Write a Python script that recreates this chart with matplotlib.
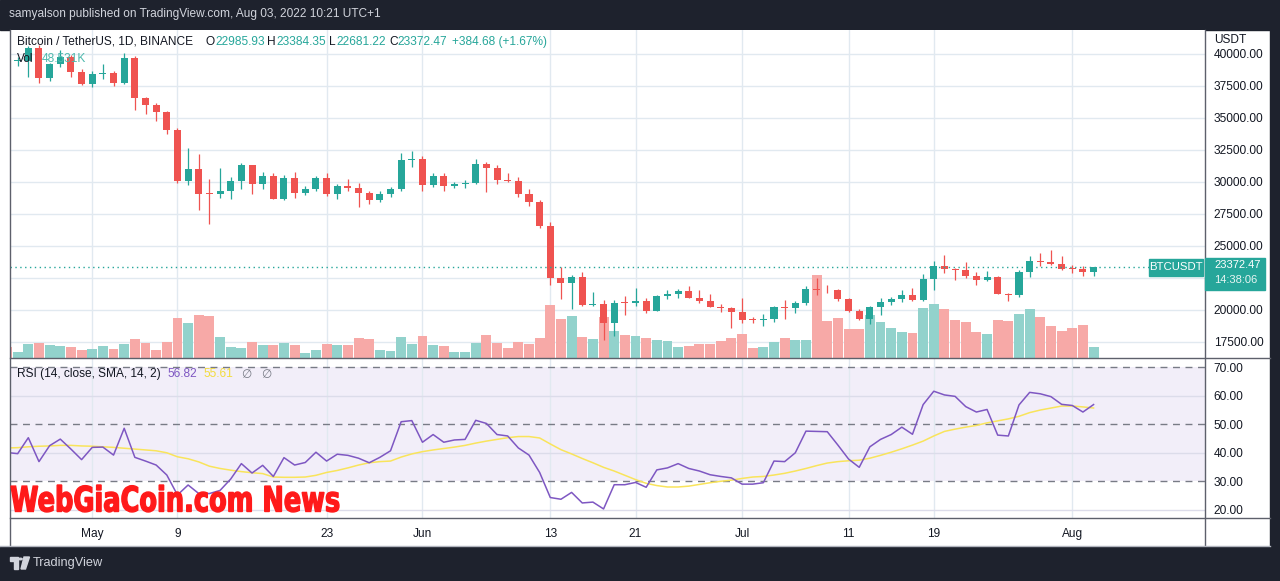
import matplotlib
matplotlib.use('Agg')
import matplotlib.pyplot as plt
import numpy as np
import pandas as pd
from matplotlib.patches import Rectangle, PathPatch, Circle, Polygon
from matplotlib.textpath import TextPath
from matplotlib.font_manager import FontProperties
from matplotlib.path import Path
from matplotlib.lines import Line2D
from matplotlib.transforms import blended_transform_factory

plt.rcParams['font.family'] = ['Liberation Sans', 'DejaVu Sans']

# ---- data (BTCUSDT daily, Binance) ----
dates = pd.date_range('2022-04-23', '2022-08-03', freq='D')

opens = [39710, 39450, 39470, 40430, 38110, 39230, 39740, 38590, 37630, 38470,
         38520, 37710, 39690, 36550, 36010, 35470, 34040, 30080, 31010, 29100,
         29050, 29300, 30080, 31330, 29850, 30450, 28680, 30310, 29150, 29450,
         30300, 29080, 29680, 29520, 29150, 28600, 29040, 29450, 31720, 31800,
         29790, 30460, 29690, 29850, 29920, 31390, 31120, 30180, 30110, 29090,
         28420, 26560, 22470, 22100, 22580, 20390, 20470, 18950, 20550, 20520,
         20720, 19960, 21100, 21250, 21480, 20950, 20710, 20250, 20160, 19860,
         19250, 19220, 19300, 20230, 20170, 20550, 21640, 21580, 21530, 20860,
         19930, 19280, 20230, 20600, 20850, 21180, 20760, 22420, 23440, 23180,
         23120, 22640, 22360, 22580, 21280, 21200, 22970, 23830, 23720, 23600,
         23240, 23200, 22985.93]
highs = [39980, 39800, 40620, 40700, 39300, 40310, 39920, 38800, 38650, 39220,
         38650, 40100, 39820, 36640, 36200, 35520, 34220, 32630, 32190, 30230,
         31090, 30390, 31510, 31350, 30780, 30700, 30550, 30780, 29690, 30470,
         30670, 29840, 30230, 29920, 29300, 29300, 29610, 32290, 32450, 32030,
         30700, 30700, 30000, 30160, 31800, 31560, 31330, 30700, 30390, 29450,
         28600, 26850, 23360, 22700, 22970, 21410, 20780, 20780, 21090, 21720,
         20940, 21170, 21560, 21640, 21870, 21560, 21250, 20470, 20200, 20940,
         19450, 19690, 20310, 20780, 20700, 21880, 22500, 21950, 21640, 20900,
         20080, 20310, 20940, 21020, 21560, 21720, 22810, 23830, 24300, 23250,
         23750, 22970, 23050, 22650, 21330, 23130, 24220, 24450, 24690, 24220,
         23520, 23440, 23384.35]
lows = [39320, 39100, 38230, 37760, 37920, 38960, 38230, 37570, 37450, 38070,
        37530, 37660, 35620, 35300, 34790, 33750, 29950, 29770, 27800, 26720,
        28750, 28670, 29450, 29090, 29450, 28650, 28600, 28750, 28980, 29300,
        28910, 28670, 29300, 28050, 28280, 28440, 28830, 29300, 31200, 29300,
        29610, 29300, 29530, 29530, 29840, 29220, 29840, 30000, 28830, 28120,
        26400, 21950, 20860, 20080, 20310, 20310, 17660, 17970, 19610, 20310,
        19770, 19920, 20860, 20940, 20940, 20550, 20200, 19840, 18590, 18980,
        18980, 18750, 19060, 19300, 19770, 20390, 21170, 21330, 20700, 19840,
        19220, 18910, 19610, 20390, 20630, 20700, 20700, 21560, 22890, 22340,
        22500, 21950, 22270, 21250, 20700, 21020, 22580, 23440, 23520, 23130,
        22890, 22660, 22681.22]
closes = [39450, 39470, 40430, 38110, 39230, 39740, 38590, 37630, 38470, 38520,
          37710, 39690, 36550, 36010, 35470, 34040, 30080, 31010, 29100, 29050,
          29300, 30080, 31330, 29850, 30450, 28680, 30310, 29150, 29450, 30300,
          29080, 29680, 29520, 29150, 28600, 29040, 29450, 31720, 31800, 29790,
          30460, 29690, 29850, 29920, 31390, 31120, 30180, 30110, 29090, 28420,
          26560, 22470, 22100, 22580, 20390, 20470, 18950, 20550, 20520, 20720,
          19960, 21100, 21250, 21480, 20950, 20710, 20250, 20160, 19860, 19250,
          19220, 19300, 20230, 20170, 20550, 21640, 21580, 21530, 20860, 19930,
          19280, 20230, 20600, 20850, 21180, 20760, 22420, 23440, 23180, 23120,
          22640, 22360, 22580, 21280, 21200, 22970, 23830, 23720, 23600, 23240,
          23200, 22990, 23372.47]
volumes = [50, 26, 62, 66, 57, 53, 48, 35, 40, 53,
           40, 62, 84, 66, 35, 70, 176, 154, 189, 185,
           92, 48, 44, 70, 57, 57, 66, 57, 22, 35,
           62, 57, 57, 88, 84, 35, 31, 92, 62, 97,
           57, 53, 26, 26, 66, 101, 66, 44, 70, 62,
           88, 233, 172, 185, 92, 84, 180, 119, 101, 97,
           88, 79, 75, 48, 53, 62, 62, 75, 88, 106,
           44, 48, 70, 88, 79, 79, 365, 163, 176, 128,
           128, 189, 158, 132, 114, 110, 220, 238, 216, 167,
           158, 114, 106, 167, 163, 194, 216, 180, 141, 119,
           132, 145, 48.531]  # thousand BTC
rsi = [40.0, 39.6, 45.2, 36.8, 42.4, 44.7, 41.2, 37.5, 41.8, 41.9, 39.1,
       48.5, 38.3, 37.0, 35.6, 32.1, 25.1, 28.6, 25.6, 25.6, 26.7,
       30.7, 36.1, 32.8, 35.5, 31.6, 38.2, 35.6, 36.5, 40.1, 37.0,
       39.4, 39.0, 38.0, 36.4, 38.3, 40.6, 50.8, 51.2, 43.6, 46.3,
       43.6, 44.4, 44.6, 51.3, 50.2, 46.3, 45.8, 41.6, 39.1, 33.0,
       24.2, 23.6, 26.0, 22.3, 22.6, 20.2, 28.7, 28.7, 29.5, 27.8,
       33.9, 34.6, 36.1, 34.4, 33.5, 32.2, 31.6, 31.1, 28.9, 28.9,
       29.4, 37.0, 36.8, 39.9, 47.5, 47.4, 47.3, 42.6, 37.7, 34.8,
       42.0, 44.6, 46.3, 48.9, 46.4, 56.8, 61.5, 60.2, 59.7, 56.1,
       54.2, 55.1, 46.1, 45.8, 56.7, 61.1, 60.6, 59.6, 56.9, 56.5,
       54.2, 56.82]
rsi_ma = [41.6, 41.7, 42.0, 42.2, 42.3, 42.5, 42.5, 42.3, 42.2, 42.0, 41.8,
          41.5, 41.2, 40.9, 40.6, 39.9, 38.5, 37.8, 36.7, 35.2, 34.4,
          33.8, 33.3, 32.9, 32.6, 31.4, 31.3, 31.3, 31.4, 32.0, 33.0,
          33.7, 34.6, 35.6, 36.4, 36.8, 37.0, 38.4, 39.5, 40.3, 40.9,
          41.4, 41.9, 42.5, 43.3, 44.0, 44.6, 45.2, 45.6, 45.6, 45.1,
          43.0, 41.0, 39.5, 37.9, 36.4, 34.8, 33.5, 32.0, 30.5, 29.2,
          28.4, 27.9, 27.9, 28.2, 28.8, 29.4, 29.9, 30.3, 30.9, 31.4,
          31.6, 32.1, 32.7, 33.5, 34.4, 35.4, 36.3, 36.8, 37.1, 37.3,
          38.0, 39.0, 40.1, 41.3, 42.6, 44.0, 45.8, 47.4, 48.2, 48.9,
          49.5, 50.4, 51.1, 51.8, 52.7, 54.0, 54.9, 55.6, 56.3, 56.3,
          56.0, 55.61]

tick_dates = ['2022-05-01', '2022-05-09', '2022-05-23', '2022-06-01', '2022-06-13',
              '2022-06-21', '2022-07-01', '2022-07-11', '2022-07-19', '2022-08-01']
tick_labels = ['May', '9', '23', 'Jun', '13', '21', 'Jul', '11', '19', 'Aug']
price_ticks = np.arange(17500, 40001, 2500)
hidden_price_labels = [22500]   # covered by the last-price tag
rsi_ticks = [20, 30, 40, 50, 60, 70]

# ---- colours ----
UP, DOWN = '#26a69a', '#ef5350'
UP_VOL, DOWN_VOL = '#92d2cc', '#f7a9a7'
GRID = '#e1e9f0'
TXT = '#131722'
FRAME = '#5d606b'
FS = 8.6

W, H = 1280, 581
fig = plt.figure(figsize=(W / 100, H / 100), dpi=100)
fig.patch.set_facecolor('white')


def fx(px):
    return px / W


def fy(py):
    return 1 - py / H


o = np.array(opens, float)
h = np.array(highs, float)
l = np.array(lows, float)
c = np.array(closes, float)
x = np.arange(len(dates))
up = c >= o
xlim = (0.28, 112.46)
tick_pos = dates.get_indexer(pd.to_datetime(tick_dates))

rect_price = [fx(10), fy(358), fx(1205) - fx(10), (358 - 30) / H]
rect_rsi = [fx(10), fy(518), fx(1205) - fx(10), (518 - 358) / H]

# volume (bottom layer)
ax_vol = fig.add_axes(rect_price)
ax = fig.add_axes(rect_price)
ax.patch.set_alpha(0)
for a in (ax_vol, ax):
    a.set_xlim(*xlim)
    for s in a.spines.values():
        s.set_visible(False)
ax.set_ylim(16250, 41875)
ax_vol.set_ylim(0, 1443)
ax_vol.set_xticks([])
ax_vol.set_yticks([])

gtrans = blended_transform_factory(ax_vol.transAxes, ax.transData)
for p in price_ticks:
    ax_vol.add_line(Line2D([0, 1], [p, p], transform=gtrans, color=GRID, lw=1, zorder=0))
for t in tick_pos:
    ax_vol.axvline(t, color=GRID, lw=1, zorder=0)

ax_vol.bar(x, volumes, width=0.93, color=np.where(up, UP_VOL, DOWN_VOL), linewidth=0, zorder=2)

# candles
cols = np.where(up, UP, DOWN)
ax.vlines(x, l, h, colors=cols, lw=0.9, zorder=3)
body_h = np.maximum(np.abs(c - o), 70)
ax.bar(x, body_h, bottom=np.minimum(o, c), width=0.66, color=cols, linewidth=0, zorder=4)

ax.set_xticks([])
ax.yaxis.tick_right()
ax.set_yticks(price_ticks)
ax.set_yticklabels(['' if p in hidden_price_labels else '%.2f' % p for p in price_ticks])
ax.tick_params(axis='y', length=0, pad=6.3, labelsize=FS, labelcolor=TXT)

last = c[-1]
ax.axhline(last, xmin=0, xmax=(1149 - 10) / 1195, color=UP, lw=1, ls=(0, (1, 2.5)), zorder=5)

# RSI panel
ax_r = fig.add_axes(rect_rsi)
ax_r.set_xlim(*xlim)
ax_r.set_ylim(17.02, 73.16)
for s in ax_r.spines.values():
    s.set_visible(False)
ax_r.axhspan(30, 70, color='#f2eef9', lw=0, zorder=0)
for t in tick_pos:
    ax_r.axvline(t, color=GRID, lw=1, zorder=1)
for v in (20, 40, 60):
    ax_r.axhline(v, color='#dcdcea', lw=1, zorder=1)
for v in (30, 50, 70):
    ax_r.axhline(v, color='#787b86', lw=1, ls=(0, (5, 4)), zorder=2)
ax_r.plot(x, rsi_ma, color='#f9e45b', lw=1.1, zorder=3)
ax_r.plot(x, rsi, color='#7e57c2', lw=1.1, zorder=4)
ax_r.yaxis.tick_right()
ax_r.set_yticks(rsi_ticks)
ax_r.set_yticklabels(['%.2f' % v for v in rsi_ticks])
ax_r.tick_params(axis='y', length=0, pad=6.3, labelsize=FS, labelcolor=TXT)
ax_r.set_xticks(tick_pos)
ax_r.set_xticklabels(tick_labels)
ax_r.tick_params(axis='x', length=0, pad=7, labelsize=FS, labelcolor=TXT)

# ---- frame ----
fig.add_artist(Rectangle((0, fy(30)), 1, 30 / H, transform=fig.transFigure, color='#1e222d', zorder=0))
fig.add_artist(Rectangle((0, 0), 1, (H - 547) / H, transform=fig.transFigure, color='#1e222d', zorder=0))
fig.add_artist(Rectangle((fx(1270), 0), 10 / W, 1, transform=fig.transFigure, color='#1e222d', zorder=0))


def fline(x0, y0, x1, y1, color=FRAME, lw=1):
    fig.add_artist(Line2D([fx(x0), fx(x1)], [fy(y0), fy(y1)], transform=fig.transFigure,
                          color=color, lw=lw, zorder=2))


fline(10, 30, 10, 545)
fline(1205, 30, 1205, 545)
fline(10, 358, 1270, 358)
fline(10, 518, 1270, 518)
fline(0, 545.5, 1270, 545.5, color='#b2b5be')

# ---- texts ----
fig.text(fx(9), fy(14), 'samyalson published on TradingView.com, Aug 03, 2022 10:21 UTC+1',
         color='#d1d4dc', fontsize=8.6, va='center')

legend = [('Bitcoin / TetherUS, 1D, BINANCE', 17, TXT), ('O', 205, TXT), ('22985.93', 215, UP),
          ('H', 267, TXT), ('23384.35', 276, UP), ('L', 329, TXT), ('22681.22', 336, UP),
          ('C', 389, TXT), ('23372.47', 397, UP), ('+384.68 (+1.67%)', 452, UP)]
for s, px, col in legend:
    fig.text(fx(px), fy(42), s, color=col, fontsize=FS, va='center', zorder=6)
fig.text(fx(17), fy(59), 'Vol', color=TXT, fontsize=FS, va='center', zorder=6)
fig.text(fx(42), fy(59), '48.531K', color='#4fb9ad', fontsize=FS, va='center', zorder=6)

fig.text(fx(17), fy(374), 'RSI (14, close, SMA, 14, 2)', color=TXT, fontsize=FS, va='center')
fig.text(fx(168), fy(374), '56.82', color='#7e57c2', fontsize=FS, va='center')
fig.text(fx(204), fy(374), '55.61', color='#f2dc3c', fontsize=FS, va='center')
fig.text(fx(241), fy(374), '\u2205', color='#787b86', fontsize=FS, va='center',
         family=['DejaVu Sans'])
fig.text(fx(261), fy(374), '\u2205', color='#787b86', fontsize=FS, va='center',
         family=['DejaVu Sans'])

fig.text(fx(1214), fy(40), 'USDT', color=TXT, fontsize=FS, va='center')

# last price labels
y_last = fig.transFigure.inverted().transform(ax.transData.transform((0, last)))[1]
fig.add_artist(Rectangle((fx(1205), y_last - 23 / H), 60 / W, 32 / H, transform=fig.transFigure,
                         color=UP, zorder=5))
fig.text(fx(1214), y_last + 1.5 / H, '%.2f' % last, color='white', fontsize=8,
         va='center', zorder=6)
fig.text(fx(1214), y_last - 13.5 / H, '14:38:06', color='#e8f5f3', fontsize=8,
         va='center', zorder=6)
fig.add_artist(Rectangle((fx(1149), y_last - 9 / H), 54 / W, 17 / H, transform=fig.transFigure,
                         color=UP, zorder=5))
fig.text(fx(1176), y_last, 'BTCUSDT', color='white', fontsize=8.2, va='center', ha='center', zorder=6)

# watermark
fp = FontProperties(family='DejaVu Sans', weight='bold')
tp = TextPath((0, 0), 'WebGiaCoin.com News', size=10, prop=fp)
ext = tp.get_extents()
x0, y0, x1, y1 = 11, 485, 339, 512
verts = tp.vertices.copy()
verts[:, 0] = fx(x0) + (verts[:, 0] - ext.x0) * (x1 - x0) / W / ext.width
verts[:, 1] = fy(y1) + (verts[:, 1] - ext.y0) * (y1 - y0) / H / ext.height
fig.add_artist(PathPatch(Path(verts, tp.codes), transform=fig.transFigure,
                         facecolor='#ff1a1a', edgecolor='#ff1a1a', lw=1.0, zorder=7))

# TradingView logo + name
logo = '#d1d4dc'
fig.add_artist(Polygon([(fx(10), fy(557)), (fx(18), fy(557)), (fx(18), fy(569)), (fx(14), fy(569)),
                        (fx(14), fy(561)), (fx(10), fy(561))], closed=True,
                       transform=fig.transFigure, color=logo, zorder=3))
fig.add_artist(Circle((fx(20.5), fy(559)), 1.7 / W, transform=fig.transFigure, color=logo, zorder=3))
fig.add_artist(Polygon([(fx(24), fy(557)), (fx(29.5), fy(557)), (fx(25.5), fy(569)), (fx(21), fy(569))],
                       closed=True, transform=fig.transFigure, color=logo, zorder=3))
fig.text(fx(33), fy(563), 'TradingView', color=logo, fontsize=9.2, va='center')

fig.savefig('out.png', dpi=100)
